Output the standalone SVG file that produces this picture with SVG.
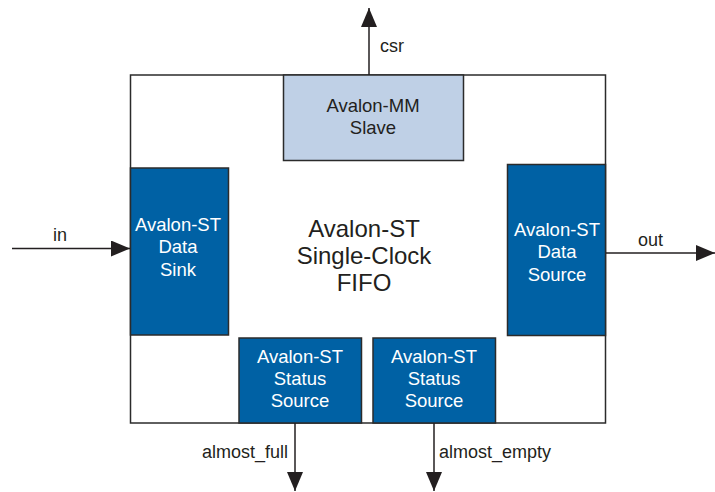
<svg xmlns="http://www.w3.org/2000/svg" width="715" height="492" viewBox="0 0 715 492">
<style>
text{font-family:"Liberation Sans",Arial,sans-serif;text-anchor:middle;}
.dk{fill:#0061a4;stroke:#2b2b2b;stroke-width:1.5;}
.lt{fill:#bfd0e6;stroke:#2b2b2b;stroke-width:1.5;}
.wt{fill:#ffffff;font-size:18.5px;}
.bt{fill:#231f20;font-size:18.5px;}
.lbl{fill:#231f20;font-size:18px;}
.ln{stroke:#231f20;stroke-width:1.5;fill:none;}
</style>
<defs>
<marker id="ahL" markerWidth="19" markerHeight="16" refX="19" refY="8" orient="auto" markerUnits="userSpaceOnUse" viewBox="0 0 19 16">
<path d="M0,0 L19,8 L0,16 Z" fill="#231f20"/>
</marker>
</defs>
<g id="fifo">
<rect x="130.5" y="75" width="475" height="348" fill="#ffffff" stroke="#2b2b2b" stroke-width="1.5"/>
<text x="364" y="237" style="font-size:24px;fill:#231f20">Avalon-ST</text>
<text x="364" y="264" style="font-size:24px;fill:#231f20">Single-Clock</text>
<text x="364" y="291" style="font-size:24px;fill:#231f20">FIFO</text>
</g>
<g id="mm_slave">
<rect class="lt" x="283.5" y="75" width="180" height="85.5"/>
<text class="bt" x="373" y="112">Avalon-MM</text>
<text class="bt" x="373" y="134">Slave</text>
</g>
<g id="data_sink">
<rect class="dk" x="130.5" y="168" width="98" height="167"/>
<text class="wt" x="178" y="231">Avalon-ST</text>
<text class="wt" x="178" y="253">Data</text>
<text class="wt" x="178" y="276">Sink</text>
</g>
<g id="data_source">
<rect class="dk" x="507.5" y="164.5" width="98" height="171"/>
<text class="wt" x="557" y="236">Avalon-ST</text>
<text class="wt" x="557" y="258">Data</text>
<text class="wt" x="557" y="281">Source</text>
</g>
<g id="status_full">
<rect class="dk" x="239" y="338" width="122.5" height="85"/>
<text class="wt" x="300" y="363">Avalon-ST</text>
<text class="wt" x="300" y="385">Status</text>
<text class="wt" x="300" y="407">Source</text>
</g>
<g id="status_empty">
<rect class="dk" x="373" y="338" width="122.5" height="85"/>
<text class="wt" x="434" y="363">Avalon-ST</text>
<text class="wt" x="434" y="385">Status</text>
<text class="wt" x="434" y="407">Source</text>
</g>
<g id="connectors">
<line class="ln" x1="369" y1="75" x2="369" y2="8" marker-end="url(#ahL)"/>
<text class="lbl" x="380" y="52" style="text-anchor:start">csr</text>
<line class="ln" x1="12" y1="248.5" x2="130" y2="248.5" marker-end="url(#ahL)"/>
<text class="lbl" x="60" y="241">in</text>
<line class="ln" x1="606" y1="253" x2="715" y2="253" marker-end="url(#ahL)"/>
<text class="lbl" x="638" y="246" style="text-anchor:start">out</text>
<line class="ln" x1="295" y1="423" x2="295" y2="491" marker-end="url(#ahL)"/>
<text class="lbl" x="288" y="458" style="text-anchor:end">almost_full</text>
<line class="ln" x1="434" y1="423" x2="434" y2="491" marker-end="url(#ahL)"/>
<text class="lbl" x="439" y="458" style="text-anchor:start">almost_empty</text>
</g>
</svg>
